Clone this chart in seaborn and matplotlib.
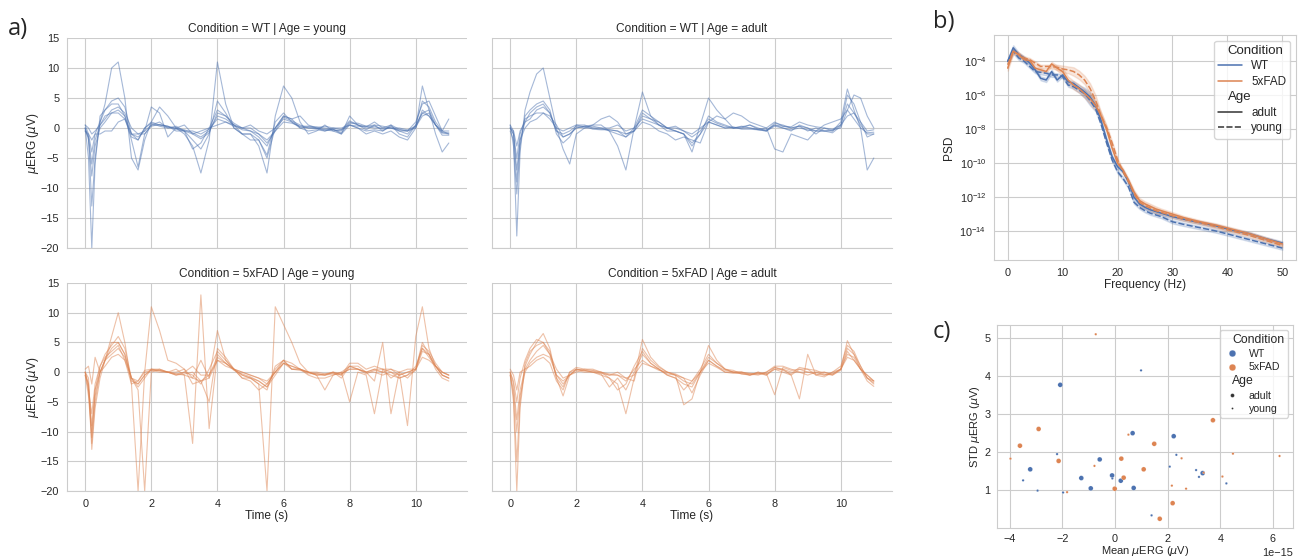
import matplotlib
matplotlib.use('Agg')
import matplotlib.pyplot as plt
from matplotlib.offsetbox import HPacker, DrawingArea, TextArea
import seaborn as sns
import numpy as np
import pandas as pd

# ---------------- data ----------------
conditions = ['WT', '5xFAD']
ages = ['adult', 'young']

# time grid for the uERG traces (s)
time_s = [0.0, 0.1, 0.2, 0.3, 0.45, 0.6, 0.8, 1.0, 1.2, 1.4,
          1.6, 1.8, 2.0, 2.25, 2.5, 2.75, 3.0, 3.25, 3.5, 3.75,
          4.0, 4.25, 4.5, 4.75, 5.0, 5.25, 5.5, 5.75, 6.0, 6.25,
          6.5, 6.75, 7.0, 7.25, 7.5, 7.75, 8.0, 8.25, 8.5, 8.75,
          9.0, 9.25, 9.5, 9.75, 10.0, 10.2, 10.4, 10.6, 10.8, 11.0]

wt_young = [
    [0, -2, -8, -3, 0, 1, 2.5, 3, 2, -1,
     -1.5, -0.5, 0.5, 0.5, 0.2, 0, -0.3, -0.8, -1.5, -0.5,
     2, 1.5, 0.5, -0.3, -0.5, -1.5, -3, 0, 1.5, 1,
     0.2, 0, -0.1, -0.2, -0.3, -0.5, 1, 0.5, 0, 0.3,
     -0.2, 0, -0.3, -0.5, 0, 3, 2, 0.5, -0.8, -1],
    [0.5, -1, -4, -1, 1, 4, 10, 11, 5, -5,
     -7, -2, 1, 3.5, 2, 0, -1, -3, -7.5, -2,
     11, 4, 0, -1, -1, -3, -7.5, 2, 7, 5,
     1, -1, -0.5, 0.5, -0.5, -1, 0.5, 0, -1, -0.5,
     -1, -0.5, -1.5, -2, 0, 7, 3, -1, -4, -2.5],
    [0, -5, -20, -6, 2, 3, 4.5, 5, 3.5, -1,
     -2, 0, 1, 0.5, 0.3, -0.5, -0.5, -2, -3.5, -1,
     4.5, 2.5, 0, -1, -1, -2, -5, 0, 2, 1.5,
     0, 0.2, 0, -0.5, -0.2, -1, 2, 0.5, 0.2, 1,
     0, 0.5, -1, -1.5, 0.5, 4.5, 3.5, 1, -0.5, -1],
    [-0.5, -1.5, -13, -5, 1, 3, 4, 4, 2, -2,
     -6.5, -1, 0.5, 1, 0, 0, -0.5, -3.5, -2.5, 0,
     3, 2, 0.5, -1, -2, -2, -4.5, 1, 2.5, 1,
     0, -0.5, -0.3, -0.5, 0, -0.3, 0.5, 0, -0.5, -0.3,
     -0.5, 0.3, -0.5, -1, 0.5, 2.5, 2, 0.5, -1.2, -1.2],
    [0.5, 0, -1, -0.5, 0.5, 2, 2.5, 2.5, 1.5, -1.5,
     -2, 0, 0.8, 0.3, 0, 0.3, -0.5, -0.5, -1, -0.2,
     1.5, 1, 0.3, 0, 0, -1, -2, -0.5, 1, 0.8,
     0.3, 0.3, 0.2, 0, -0.2, -0.8, 0.8, 0.8, 0.3, 0.5,
     0.3, 0, 0, -0.3, 0.3, 2.5, 3, 0.5, -0.5, 1.5],
    [-0.5, -1, -2, -1, -1, -0.5, -0.5, 1, 1.5, -1,
     -1, -0.5, 3.5, 2.5, -1.5, 0, 0.5, -1, -0.5, 0,
     0.5, 1, 0.5, 0, 0.5, -0.5, -1, 0, 2, 1.5,
     2, 0.5, 0, 0.3, 0, 0, 0.5, 0.3, 0.3, 0,
     0, 0, -0.5, -0.5, 1, 4, 4.5, 2, -0.5, -0.5],
    [0, -1.5, -6, -2, 0.5, 1.5, 3, 3.5, 2.5, 0,
     -1, -1, 0.3, 0.6, 0.3, -0.2, -0.5, -1, -1.8, -0.8,
     2.5, 2, 0.8, 0, -0.5, -1, -2.5, -0.5, 1.8, 1.2,
     0.5, 0, 0, -0.3, -0.5, -0.3, 1.2, 0.5, -0.3, 0.5,
     -0.5, 0.5, -0.2, -0.5, 0.2, 2, 2.5, 0.5, -0.8, -0.8],
]

wt_adult = [
    [0, -1, -7, -2, 1, 1.5, 3, 3.5, 2.5, -0.5,
     -1, -0.5, 0.3, 0, 0, -0.2, -0.3, -0.5, -1, -0.5,
     2.5, 1.5, 1, 0, 0, -0.5, -1.5, -0.5, 1.5, 0.8,
     0.3, 0, 0, 0, -0.2, -0.3, 0.5, 0.3, 0, 0.3,
     0, -0.5, -0.5, -0.3, 0, 3, 1.5, 0, -0.8, -0.7],
    [-0.5, -2, -18, -4, 3, 6, 9, 10, 5, 0,
     -3.5, -6, -1, 0, 0.5, 0.5, -0.5, -3, -7, 0,
     6, 2, 0.5, 0, -0.5, -1, -4, 0.5, 5, 3,
     1.5, 0, 0, 0.5, 0, -0.5, 0.5, 0, -0.5, 0.5,
     0, -1, 0, -0.5, 1, 6.5, 3, 0, -7, -5],
    [0.5, -3, -11, -3, 2, 3, 4, 4.5, 3, -1,
     -2.5, -1.5, 0.5, 0.5, 0, 0, -0.5, -1, -1.5, 0,
     3, 2, 1, 0, -0.5, -1, -2.5, -1, 2, 1,
     0.5, 0, 0.3, 0, -0.3, -0.5, 0.8, 0.5, 0, 0.3,
     -0.5, 0, -0.5, -0.8, 0.3, 5.5, 4, 1, -1.5, -1],
    [0, -1, -5, -1, 1.5, 2, 2.5, 2.5, 2, 0.5,
     -1.5, -1, 0, 0.3, 0.5, 1.5, 2, 1, -1, -0.5,
     1, 0.5, -0.5, -1, -2, -1.5, -2, -2.5, 1, 2,
     1.5, 2.5, 2, 1, 0.5, 0, -3.5, -4, -1, -1.5,
     -2, -0.5, 0.5, 1, 1.5, 3, 5.5, 5, 2, 0],
    [0, -0.5, -3, -0.5, 1, 2.5, 3.5, 4, 2.5, -0.5,
     -1.5, -1, 0, 0.3, -0.2, -0.3, -0.3, -0.5, -1.5, -0.5,
     2, 1.5, 0.5, -0.5, -0.5, -1, -3, -1, 1, 0.5,
     0, 0.2, -0.2, -0.2, -0.3, -0.5, 0.3, 0, -0.3, 0,
     -0.3, -0.5, -0.5, -0.5, 0.5, 4, 2.5, 0.5, -1, -1],
    [0.5, -0.5, -9, -2, 0, 1, 1.5, 2.5, 1.5, 0,
     -0.5, 0, 0.5, 0.2, 0.3, 0, 0, 0.5, -0.5, 0,
     1.5, 1, 0.5, 0, 0.3, -0.5, -1, 0, 1, 0.5,
     0, 0, 0.2, 0.5, -0.2, 0, 1, 0.3, 0.2, 1,
     0.5, 0.2, 0, -0.2, 0.5, 2, 2.5, 1, -0.5, -0.3],
]

fad_young = [
    [0, -3, -10, -4, 0, 2, 3, 4, 2.5, -1,
     -2, -0.5, 0.5, 0.3, 0, -0.5, -0.3, 0, -1.5, -0.5,
     2.5, 1.5, 0.5, 0, -0.5, -1, -2, 0, 1.5, 0.5,
     0.3, 0, -0.3, -0.5, 0, -0.2, 0.5, 0.5, 0, 0,
     -0.5, 0, -0.5, 0, 0.5, 4, 2.5, 1, 0, -0.5],
    [-0.5, -2, -13, -6, -1, 2, 6, 10, 5, -2,
     -20, 0, 11, 7, 2, 1.5, 0.5, -1, 2, -1,
     7, 2, 0.5, -1, -1.5, -3, -2, 0, 2, 0.5,
     0.5, -0.5, -1, -1, -0.5, 0, -5, 0, -0.5, -7,
     0.5, -1, 0, -1, 0.5, 5, 3, 0.5, -1, -1.5],
    [0, -3, -7, -2, 1, 3, 4.5, 6, 4, -1,
     -3, -20, 0, 0.5, 0, 0.5, -0.5, -12, 13, -9.5,
     3, 1.5, 0.5, -0.5, -1, -2, -20, 11, 8, 5,
     1.5, 0, -0.5, -3, -0.5, 0, 1, 0.5, 0, -1.5,
     5, -7, 0, -9, 6, 11, 4, 1, -0.5, -1],
    [0, -1, -12, -5, 0, 2, 5, 5, 3, -1.5,
     -2, -0.5, 0.3, 0, 0, -0.5, 0, -0.5, -2, 0.5,
     3.5, 2, 0.5, -0.5, -1, -1.5, -2.5, 0.5, 2, 1.5,
     0.5, 0, -0.5, -0.3, 0, -0.5, 1, 1, 0, 0.5,
     0, 0.5, -0.5, 0, 0.5, 4.5, 3.5, 1.5, 0, -0.5],
    [-0.5, -4, -11, -3, 1, 2.5, 3.5, 4.5, 2, -2,
     -1.5, 0, 0.3, 0.3, 0, -0.3, -0.5, -1, -1.5, -1,
     2, 1.5, 0.3, -0.3, -0.8, -1.5, -2.5, -0.5, 1.5, 1,
     0.5, -0.3, -0.2, -0.5, -0.3, -0.3, 0.5, 0.5, -0.3, 0.3,
     0, -0.5, -1, -0.5, 0.3, 3.5, 3, 1, -0.5, -1],
    [0.5, 1, -2, 2.5, 0, 1, 2.5, 3, 2, -1,
     -1.5, 0.3, 0.5, 0.2, 0, -0.3, 0, 1, -0.5, -0.5,
     2, 1, 0.5, 0, -0.5, -1, -1.5, 0, 1.5, 1,
     0.5, 0, 0, -0.3, -0.2, -0.5, 1.5, 1.5, 0.5, 1,
     0.5, 0.5, 0, 0.5, 0.5, 2.5, 2, 1, -0.5, -1],
    [0, -2, -9, -3, 0, 2, 4, 5, 3, -1,
     -2.5, -1, 0.5, 0.5, 0, 0, 0.5, -2, -1.5, -5,
     4, 2.5, 0.5, -1, -1, -2, -3, 1, 2, 0.5,
     0.5, 0, -0.5, -0.5, 0, -1, 1, 0.5, 0, 0.5,
     0.5, 0, -1, -0.5, 1, 4, 3, 1, 0, -0.5],
]

fad_adult = [
    [0, -5, -20, -6, 1, 3, 5, 6.5, 4, -1,
     -4, -0.5, 0.5, 0.3, 0, -0.5, -1, -2, -7, -1,
     5.5, 2.5, 1, 0, -0.5, -5.5, -4.5, 0, 4.5, 2,
     0.5, 0, -0.3, -0.5, 0, -0.5, 0.5, 0.5, -0.5, -4.5,
     3, -0.5, 0, -0.5, 0.5, 5.3, 3, 0.5, -1.5, -2.4],
    [-0.5, -4, -15, -5, 1.5, 3.5, 4.5, 5, 3.5, -1,
     -2.5, 0, 0.5, 0.3, 0, -0.3, -2.5, -1, -3, 0,
     3, 1.5, 0.5, -0.5, -1, -2, -2.5, 0, 2.5, 1.5,
     0.5, 0, 0, -0.3, -0.2, -0.5, 0.8, 0.5, 0, 0,
     -0.5, 0, -0.5, -0.3, 0.5, 4, 3, 1, -1, -2],
    [0, -2, -8, -3, 0.5, 2, 3.5, 4.5, 3, -0.5,
     -2, -0.5, 0.5, 0.2, 0.2, -0.2, -0.5, -0.5, -1.5, 0.5,
     2, 1, 0.5, -0.3, -0.5, -1.5, -2, 0, 2, 1,
     0.3, 0, 0, -0.2, -0.3, -0.2, -3.8, 0.8, 0.3, 0.5,
     0, -0.3, -0.5, 0, 0.5, 3, 2.5, 0.5, -0.5, -1.5],
    [0.5, -0.5, -3, 0, 0.5, 1, 2, 2.5, 1.5, -1.5,
     -3, 0, 0.8, 0.5, 0.3, 0, -1, -3, -2, 1,
     3.5, 1.5, 0.5, -0.5, -1, -3, -1.5, 0.5, 3, 1.5,
     0.5, 0.3, -0.3, -0.3, -0.5, 0, 1, 1, 0.5, 0,
     0, 0, 0, -0.3, 0.5, 2.5, 2, 0.5, -0.5, -1.5],
    [0, -1.5, -5, -1, 2, 4, 5.5, 5, 3, 0.5,
     -1, -0.5, 0, 0.5, 0.5, 0, -0.5, 0, -1, -1.5,
     4, 2, 0.8, 0, -0.5, -1, -3.5, -0.5, 2, 1,
     0, 0, 0, -0.5, 0, -0.3, 0.5, 0, -0.5, 0.5,
     0.5, -0.5, -0.8, 0, 1, 4.5, 3.5, 1, -1, -1.8],
    [-0.5, -3, -10, -4, 0, 1.5, 2.5, 3, 2.5, -0.5,
     -1.5, -0.5, 0.3, 0, 0, 0, -0.3, -0.5, -1, -0.5,
     1.5, 1, 0.3, 0, -0.3, -1, -1.5, 0, 1.5, 0.8,
     0, -0.2, -0.2, -0.5, -0.3, 0, 0.8, 0.3, -0.3, 0.8,
     0.5, 0.3, -0.3, -0.5, 0.3, 3.5, 2, 0.5, -1, -1.5],
]

# PSD, log10 values per group
freq_hz = [0, 1, 2, 3, 4, 5, 6, 7, 8, 9, 10, 11, 12, 13, 14, 15, 16, 17, 18, 19,
           20, 21, 22, 23, 24, 25, 26, 27, 28, 30, 32, 35, 38, 41, 44, 47, 50]
psd_wt_adult = [-4.0, -3.2, -3.6, -3.8, -4.1, -4.5, -5.0, -5.1, -4.6, -5.1,
                -4.8, -5.2, -5.3, -5.55, -5.8, -6.1, -6.6, -7.5, -8.6, -9.6,
                -10.2, -10.5, -11.1, -12.0, -12.4, -12.6, -12.75, -12.85, -12.95,
                -13.15, -13.3, -13.5, -13.7, -13.95, -14.15, -14.45, -14.7]
psd_wt_young = [-4.0, -3.4, -3.8, -4.0, -4.3, -4.6, -4.65, -4.7, -4.8, -4.8,
                -4.9, -5.4, -5.5, -5.7, -5.9, -6.3, -6.8, -7.7, -8.8, -9.8,
                -10.5, -10.9, -11.4, -12.3, -12.6, -12.8, -12.95, -13.05, -13.15,
                -13.45, -13.6, -13.8, -14.0, -14.25, -14.5, -14.75, -15.0]
psd_fad_adult = [-4.4, -3.4, -3.6, -3.9, -3.95, -4.4, -4.5, -4.6, -4.15, -4.4,
                 -4.6, -5.1, -5.4, -5.6, -5.9, -6.2, -6.6, -7.2, -8.0, -9.1,
                 -10.0, -10.4, -11.0, -11.7, -12.2, -12.4, -12.55, -12.7, -12.8,
                 -13.0, -13.2, -13.45, -13.65, -13.9, -14.15, -14.45, -14.75]
psd_fad_young = [-4.2, -3.4, -3.6, -3.8, -3.9, -4.1, -4.3, -4.3, -4.3, -4.35,
                 -4.45, -4.5, -4.6, -4.8, -5.1, -5.6, -6.3, -7.2, -7.9, -8.8,
                 -9.8, -10.5, -11.1, -11.8, -12.3, -12.5, -12.65, -12.8, -12.9,
                 -13.1, -13.3, -13.5, -13.75, -14.0, -14.25, -14.55, -14.85]
# half width of the shaded band, in decades
band_wt = [0.15, 0.15, 0.12, 0.1, 0.1, 0.1, 0.12, 0.12, 0.12, 0.1,
           0.1, 0.1, 0.12, 0.15, 0.25, 0.3, 0.15, 0.1, 0.1, 0.1,
           0.1, 0.1, 0.1, 0.1, 0.1, 0.1, 0.1, 0.1, 0.1,
           0.1, 0.1, 0.1, 0.1, 0.1, 0.1, 0.1, 0.1]
band_fad = [0.15, 0.15, 0.12, 0.1, 0.1, 0.1, 0.1, 0.1, 0.12, 0.15,
            0.2, 0.2, 0.25, 0.25, 0.25, 0.3, 0.3, 0.2, 0.15, 0.1,
            0.1, 0.1, 0.1, 0.12, 0.15, 0.15, 0.15, 0.15, 0.12,
            0.12, 0.1, 0.1, 0.1, 0.1, 0.1, 0.1, 0.1]

# mean / std per recording (mean in units of 1e-15 uV)
wt_adult_mean = [-2.08, 0.67, 2.23, -0.58, -3.22, -0.11, -1.28, 0.22, -0.92, 0.71, 3.33]
wt_adult_std = [3.77, 2.50, 2.42, 1.81, 1.55, 1.39, 1.32, 1.25, 1.05, 1.06, 1.45]
wt_young_mean = [0.99, -2.2, 2.33, 2.08, -3.49, -2.94, -1.97, -0.1, 3.08, 3.19, 4.23, 1.39]
wt_young_std = [4.15, 1.95, 1.93, 1.62, 1.26, 0.99, 0.94, 1.31, 1.53, 1.35, 1.18, 0.34]
fad_adult_mean = [3.72, -2.9, -3.61, 1.49, -2.14, 0.24, 1.09, 0.33, -0.01, 2.19, 1.70]
fad_adult_std = [2.84, 2.61, 2.17, 2.22, 1.77, 1.83, 1.55, 1.33, 1.04, 0.66, 0.25]
fad_young_mean = [-0.73, -3.97, -0.78, 0.51, 2.53, 4.48, 6.25, 4.08, 2.16, 2.70, -1.82, 3.37]
fad_young_std = [5.1, 1.83, 1.64, 2.46, 1.84, 1.96, 1.90, 1.36, 1.12, 1.04, 0.95, 1.46]

# ---------------- tables ----------------
trace_sets = {('WT', 'young'): wt_young, ('WT', 'adult'): wt_adult,
              ('5xFAD', 'young'): fad_young, ('5xFAD', 'adult'): fad_adult}
rows = []
for (cond, age), traces in trace_sets.items():
    for i, tr in enumerate(traces):
        assert len(tr) == len(time_s), (cond, age, i, len(tr))
        for t, v in zip(time_s, tr):
            rows.append((cond, age, i, t, v))
erg = pd.DataFrame(rows, columns=['Condition', 'Age', 'trace', 'Time (s)', 'uERG'])

psd_sets = {('WT', 'adult'): (psd_wt_adult, band_wt), ('WT', 'young'): (psd_wt_young, band_wt),
            ('5xFAD', 'adult'): (psd_fad_adult, band_fad), ('5xFAD', 'young'): (psd_fad_young, band_fad)}
rows = []
for (cond, age), (vals, band) in psd_sets.items():
    assert len(vals) == len(freq_hz) and len(band) == len(freq_hz), (cond, age)
    for f, v, b in zip(freq_hz, vals, band):
        for k in (-1, 0, 1):
            rows.append((cond, age, f, 10.0 ** (v + k * b)))
psd = pd.DataFrame(rows, columns=['Condition', 'Age', 'Frequency (Hz)', 'PSD'])

stat_sets = {('WT', 'adult'): (wt_adult_mean, wt_adult_std), ('WT', 'young'): (wt_young_mean, wt_young_std),
             ('5xFAD', 'adult'): (fad_adult_mean, fad_adult_std), ('5xFAD', 'young'): (fad_young_mean, fad_young_std)}
rows = []
for (cond, age), (m, s) in stat_sets.items():
    for a, b in zip(m, s):
        rows.append((cond, age, a * 1e-15, b))
stats = pd.DataFrame(rows, columns=['Condition', 'Age', 'mean', 'std'])

# ---------------- style ----------------
sns.set_style("whitegrid")
plt.rcParams['font.family'] = ['Liberation Sans', 'DejaVu Sans']
plt.rcParams['mathtext.fontset'] = 'dejavusans'
palette = {'WT': sns.color_palette('deep')[0], '5xFAD': sns.color_palette('deep')[1]}

W, H = 1306, 557
fig = plt.figure(figsize=(W / 100, H / 100), dpi=100)

def px_axes(l, t, r, b):
    return fig.add_axes([l / W, 1 - b / H, (r - l) / W, (b - t) / H])

def subtitles(leg, size):
    # seaborn-like legend subtitles: no handle space, larger text
    for hp in leg.findobj(HPacker):
        ch = hp.get_children()
        if len(ch) == 2 and isinstance(ch[0], DrawingArea) and isinstance(ch[1], TextArea):
            if ch[1].get_text() in ('Condition', 'Age'):
                ch[0].set_width(0)
                ch[1]._text.set_fontsize(size)

TICK = 7.8
LAB = 8.6

# ---------------- a) facets ----------------
facet_pos = {('WT', 'young'): (67, 38, 467, 248), ('WT', 'adult'): (492, 38, 892, 248),
             ('5xFAD', 'young'): (67, 283, 467, 491), ('5xFAD', 'adult'): (492, 283, 892, 491)}
for (cond, age), pos in facet_pos.items():
    ax = px_axes(*pos)
    sub = erg[(erg['Condition'] == cond) & (erg['Age'] == age)]
    sns.lineplot(data=sub, x='Time (s)', y='uERG', units='trace', estimator=None,
                 color=palette[cond], lw=0.8, alpha=0.5, ax=ax)
    ax.set_ylim(-20, 15)
    ax.set_yticks(range(-20, 16, 5))
    ax.set_xticks(range(0, 11, 2))
    ax.set_title(f'Condition = {cond} | Age = {age}', fontsize=LAB, pad=4)
    ax.tick_params(labelsize=TICK, pad=2)
    sns.despine(ax=ax)
    if cond == 'WT':
        ax.tick_params(labelbottom=False)
        ax.set_xlabel('')
    else:
        ax.set_xlabel('Time (s)', fontsize=LAB, labelpad=1)
    if age == 'adult':
        ax.tick_params(labelleft=False)
        ax.set_ylabel('')
    else:
        ax.set_ylabel(r'$\mu$ERG ($\mu$V)', fontsize=LAB, labelpad=0)

# ---------------- b) PSD ----------------
ax = px_axes(994, 35, 1296, 260)
ax.set_yscale('log')
sns.lineplot(data=psd, x='Frequency (Hz)', y='PSD', hue='Condition', style='Age',
             hue_order=conditions, style_order=ages, palette=palette,
             estimator='median', errorbar=('pi', 100), lw=1.1, ax=ax)
ax.set_yticks([1e-14, 1e-12, 1e-10, 1e-8, 1e-6, 1e-4])
ax.minorticks_off()
ax.set_xticks(range(0, 51, 10))
ax.tick_params(labelsize=TICK, pad=2)
ax.set_xlabel('Frequency (Hz)', fontsize=LAB, labelpad=1)
ax.set_ylabel('PSD', fontsize=LAB, labelpad=3)
leg = ax.legend(loc='upper right', fontsize=8.4, frameon=True, handlelength=2.0,
                labelspacing=0.3, borderpad=0.35, handletextpad=0.8)
subtitles(leg, 9.5)

# ---------------- c) mean vs std ----------------
ax = px_axes(997, 325, 1293, 528)
sns.scatterplot(data=stats, x='mean', y='std', hue='Condition', size='Age',
                hue_order=conditions, size_order=ages, palette=palette,
                sizes={'adult': 12, 'young': 3}, ax=ax)
ax.set_xticks([-4e-15, -2e-15, 0, 2e-15, 4e-15, 6e-15])
ax.set_yticks([1, 2, 3, 4, 5])
ax.tick_params(labelsize=TICK, pad=1)
ax.xaxis.get_offset_text().set_fontsize(TICK)
ax.set_xlabel(r'Mean $\mu$ERG ($\mu$V)', fontsize=8, labelpad=0)
ax.set_ylabel(r'STD $\mu$ERG ($\mu$V)', fontsize=8, labelpad=2)
leg = ax.legend(loc='upper right', fontsize=7.6, frameon=True, markerscale=0.8,
                labelspacing=0.3, borderpad=0.35, handletextpad=0.8, handlelength=1.6)
subtitles(leg, 8.8)

# panel letters
fig.text(8 / W, 1 - 35 / H, 'a)', fontsize=17, family='Open Sans')
fig.text(933 / W, 1 - 28 / H, 'b)', fontsize=17, family='Open Sans')
fig.text(933 / W, 1 - 338 / H, 'c)', fontsize=17, family='Open Sans')

fig.savefig('out.png', dpi=100)
